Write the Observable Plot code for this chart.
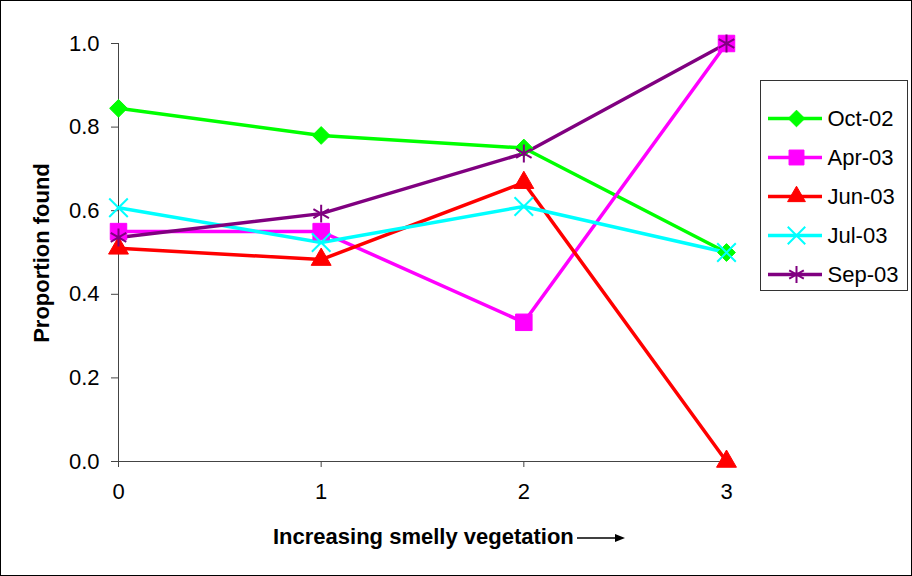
<!DOCTYPE html>
<html><head><meta charset="utf-8">
<script src="https://cdn.jsdelivr.net/npm/d3@7"></script>
<script src="https://cdn.jsdelivr.net/npm/@observablehq/plot@0.6"></script>
<style>
body{margin:0;background:#fff;font-family:"Liberation Sans",Arial,sans-serif;}
#wrap{position:relative;width:912px;height:576px;overflow:hidden;}
#frame{position:absolute;left:0;top:0;width:912px;height:576px;box-sizing:border-box;border:1px solid #000;pointer-events:none;}
#legend{position:absolute;left:760px;top:80px;width:148px;height:211px;box-sizing:border-box;border:1px solid #333;background:#fff;}
#xlabel{position:absolute;top:526px;left:273px;font-weight:bold;font-size:22px;line-height:22px;white-space:nowrap;}
#ylabel{position:absolute;left:42px;top:253px;transform:translate(-50%,-50%) rotate(-90deg);font-weight:bold;font-size:22px;line-height:22px;white-space:nowrap;}
</style></head>
<body>
<div id="wrap">
  <div id="plot"></div>
  <div id="legend"></div>
  <div id="xlabel">Increasing smelly vegetation<svg width="50" height="12" style="vertical-align:middle;margin-left:3px"><line x1="0" y1="6" x2="40" y2="6" stroke="#000" stroke-width="1.5"/><path d="M38,2 L48,6 L38,10 Z" fill="#000"/></svg></div>
  <div id="ylabel">Proportion found</div>
  <div id="frame"></div>
</div>
<script>
const xs = [0, 1, 2, 3];
const seriesNames = ["Oct-02", "Apr-03", "Jun-03", "Jul-03", "Sep-03"];
const oct02 = [0.845, 0.78, 0.75, 0.50];
const apr03 = [0.55, 0.55, 0.333, 1.0];
const jun03 = [0.51, 0.483, 0.667, 0.0];
const jul03 = [0.607, 0.524, 0.61, 0.50];
const sep03 = [0.536, 0.593, 0.737, 1.0];
const colors = ["#00ff00", "#ff00ff", "#ff0000", "#00ffff", "#800080"];
const symbols = ["diamond2", "square2", "triangle2", "times", "asterisk"];
const sizes = [8, 10.5, 9.5, 8.5, 8.5];
const legendSizes = [7.5, 9.5, 8.5, 8, 8];
const yTicks = [0, 0.2, 0.4, 0.6, 0.8, 1.0];
const font = "'Liberation Sans', Arial, sans-serif";

const allVals = [oct02, apr03, jun03, jul03, sep03];
const data = [];
seriesNames.forEach((s, i) => xs.forEach((x, j) => data.push({series: s, x, y: allVals[i][j]})));
const isOpen = i => symbols[i] === "times" || symbols[i] === "asterisk";

const chart = Plot.plot({
  width: 912, height: 576,
  marginLeft: 118, marginRight: 186, marginTop: 43, marginBottom: 115,
  style: {fontFamily: font, fontSize: "22px", color: "#000", background: "transparent"},
  x: {domain: [0, 3]},
  y: {domain: [0, 1]},
  color: {domain: seriesNames, range: colors},
  symbol: {domain: seriesNames, range: symbols},
  marks: [
    Plot.axisY({ticks: yTicks, tickFormat: d3.format(".1f"), tickSize: 7, tickPadding: 12, label: null, stroke: "#444", fontSize: 22}),
    Plot.axisX({ticks: xs, tickFormat: d3.format("d"), tickSize: 6, tickPadding: 16, label: null, stroke: "#444", fontSize: 22}),
    Plot.ruleX([0], {stroke: "#444"}),
    Plot.ruleY([0], {stroke: "#444"}),
    Plot.line(data, {x: "x", y: "y", z: "series", stroke: "series", strokeWidth: 3.5}),
    ...seriesNames.map((s, i) => Plot.dot(data.filter(d => d.series === s), {
      x: "x", y: "y", symbol: "series", r: sizes[i],
      fill: isOpen(i) ? "none" : colors[i],
      stroke: colors[i], strokeWidth: isOpen(i) ? 2 : 1
    }))
  ]
});
document.getElementById("plot").appendChild(chart);

const legData = seriesNames.map((s, i) => ({series: s, i}));
const LH = 209;
const rowY = d => LH - (37 + d.i * 39);
const leg = Plot.plot({
  width: 146, height: LH, margin: 0,
  x: {domain: [0, 146]}, y: {domain: [0, LH]},
  axis: null,
  style: {fontFamily: font, fontSize: "22px", background: "transparent"},
  color: {domain: seriesNames, range: colors},
  symbol: {domain: seriesNames, range: symbols},
  marks: [
    Plot.ruleY(legData, {y: rowY, x1: 7, x2: 61, stroke: "series", strokeWidth: 3.5}),
    ...legData.map((d, i) => Plot.dot([d], {x: 35, y: rowY, symbol: "series", r: legendSizes[i],
      fill: isOpen(i) ? "none" : colors[i],
      stroke: colors[i], strokeWidth: isOpen(i) ? 2 : 1})),
    Plot.text(legData, {x: 66, y: rowY, text: "series", textAnchor: "start", fill: "#000", fontSize: 22})
  ]
});
document.getElementById("legend").appendChild(leg);
</script>
</body></html>
